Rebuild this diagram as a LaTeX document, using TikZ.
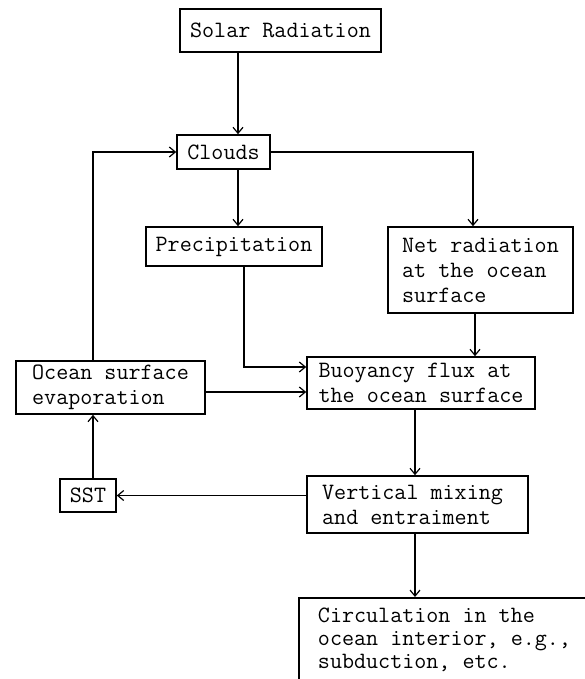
\documentclass[tikz,border=0pt]{standalone}
\usepackage{fontspec}
\usetikzlibrary{arrows.meta}
\begin{document}
\begin{tikzpicture}[x=1pt,y=-1pt,
  box/.style={draw, line width=1.6pt, inner sep=0pt, align=left,
    font=\ttfamily\fontsize{23.4}{25}\selectfont, text=black},
  arr/.style={line width=1.3pt, -{Straight Barb[length=6pt,width=10pt,line width=1.2pt]}},
]
\useasboundingbox (0,0) rectangle (585,679);
\fill[white] (0,0) rectangle (585,679);

\node[box, minimum width=201pt, minimum height=43pt] (solar) at (280.5,30.5) {Solar Radiation};
\node[box, minimum width=93pt, minimum height=34pt] (clouds) at (223.5,152) {Clouds};
\node[box, minimum width=176pt, minimum height=39pt] (precip) at (234,246.5) {Precipitation};
\node[box, minimum width=185pt, minimum height=86pt] (net) at (480.5,270) {Net radiation\\at the ocean\\surface};
\node[box, minimum width=189pt, minimum height=53pt] (ocean) at (110.5,387.5) {Ocean surface\\evaporation};
\node[box, minimum width=228pt, minimum height=52pt] (buoy) at (421,383) {Buoyancy flux at\\the ocean surface};
\node[box, minimum width=56pt, minimum height=33pt] (sst) at (88,495.5) {SST};
\node[box, minimum width=221pt, minimum height=57pt] (vert) at (417.5,504.5) {Vertical mixing\\and entraiment\hspace*{22pt}};
\node[box, anchor=north, minimum width=291pt, minimum height=84pt,
  font=\ttfamily\fontsize{23.4}{23}\selectfont] (circ) at (444.5,597) {Circulation in the\\ocean interior, e.g.,\\subduction, etc.};

\coordinate (c1) at (238,0);
\coordinate (l1) at (93,0);
\coordinate (r1) at (473,0);
\coordinate (p1) at (244,367);
\coordinate (r2) at (475,0);
\coordinate (e1) at (0,392);
\coordinate (m1) at (415,0);

\draw[arr] (solar.south -| c1) -- (clouds.north -| c1);
\draw[arr] (clouds.south -| c1) -- (precip.north -| c1);
\draw[arr] (ocean.north -| l1) |- (clouds.west);
\draw[arr] (clouds.east) -| (net.north -| r1);
\draw[arr] (precip.south -| p1) |- (buoy.west |- p1);
\draw[arr] (net.south -| r2) -- (buoy.north -| r2);
\draw[arr] (ocean.east |- e1) -- (buoy.west |- e1);
\draw[arr] (buoy.south -| m1) -- (vert.north -| m1);
\draw[arr] (vert.south -| m1) -- (circ.north -| m1);
\draw[arr] (vert.west |- sst.east) -- (sst.east);
\draw[arr] (sst.north -| l1) -- (ocean.south -| l1);
\end{tikzpicture}
\end{document}
